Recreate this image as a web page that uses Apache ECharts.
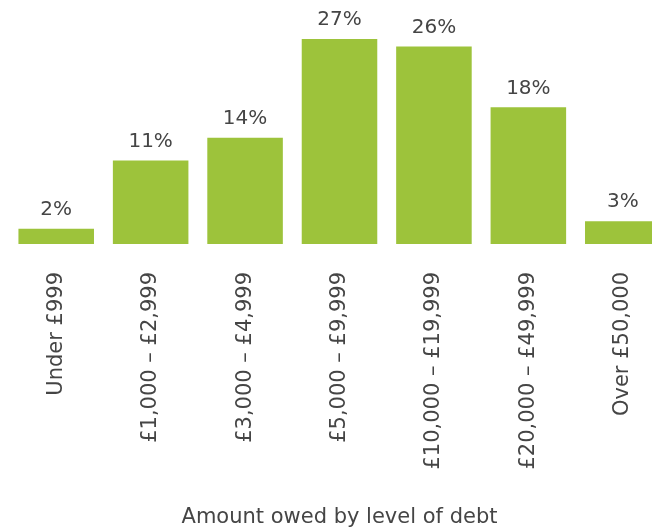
<!DOCTYPE html>
<html><head><meta charset="utf-8">
<script src="https://cdn.jsdelivr.net/npm/echarts@6/dist/echarts.min.js"></script>
<style>html,body{margin:0;padding:0;background:#fff}#c{width:652px;height:528px}</style>
</head><body><div id="c"></div>
<script>
const categories = ['Under £999','£1,000 – £2,999','£3,000 – £4,999','£5,000 – £9,999','£10,000 – £19,999','£20,000 – £49,999','Over £50,000'];
const values = [2, 11, 14, 27, 26, 18, 3];
const axisTitle = 'Amount owed by level of debt';

const FONT = '"DejaVu Sans", sans-serif';
const chart = echarts.init(document.getElementById('c'), null, {renderer:'canvas'});
chart.setOption({
  animation: false,
  grid: {left: 9, width: 661, top: 39, height: 205, outerBoundsMode: 'none', containLabel: false},
  xAxis: {
    type: 'category', data: categories,
    axisLine: {show: false}, axisTick: {show: false},
    axisLabel: {rotate: 90, margin: 28, color: '#454545', fontSize: 21, fontFamily: FONT, interval: 0},
    name: axisTitle, nameLocation: 'middle', nameGap: 263,
    nameTextStyle: {color: '#454545', fontSize: 21, fontFamily: FONT}
  },
  yAxis: {type: 'value', min: 0, max: 27, show: false, splitLine: {show: false}},
  series: [{
    type: 'bar', data: values, barCategoryGap: '20%',
    itemStyle: {color: '#9dc33b'},
    label: {show: true, position: 'top', distance: 9, formatter: '{c}%', color: '#454545', fontSize: 20, fontFamily: FONT}
  }]
});
</script></body></html>
